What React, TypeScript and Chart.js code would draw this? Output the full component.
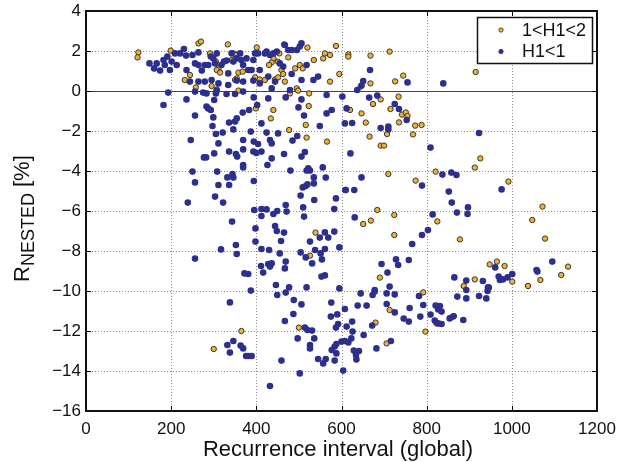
import React, { useEffect, useRef } from "react";
import { Chart, registerables } from "chart.js";

Chart.register(...registerables);

const X_TICKS = [0, 200, 400, 600, 800, 1000, 1200];
const Y_TICKS = [-16, -14, -12, -10, -8, -6, -4, -2, 0, 2, 4];
const SERIES_LABELS = ["1<H1<2", "H1<1"];
const X_TITLE = "Recurrence interval (global)";
const Y_TITLE_MAIN = "R";
const Y_TITLE_SUB = "NESTED";
const Y_TITLE_UNIT = " [%]";

// 1 < H1 < 2 (orange)
const midGroupPoints: [number, number][] = [
  [123, 1.93], [121, 1.68], [199, 2.02], [264, 2.38], [270, 2.47], [333, 2.33], [401, 2.18], [465, 2.33],
  [520, 2.17], [587, 2.25], [291, 1.88], [305, 1.47], [311, 1.13], [307, 1.05], [315, 0.92], [347, 1.88],
  [352, 1.8], [342, 1.55], [358, 0.92], [368, 0.97], [354, 0.63], [350, 0.55], [358, 0.02], [440, 1.63],
  [436, 1.42], [430, 1.3], [454, 1.88], [451, 1.47], [459, 1.05], [463, 0.85], [467, 0.47], [475, 1.68],
  [491, 1.13], [502, 1.3], [509, 1.13], [535, 1.55], [557, 1.63], [561, 1.88], [573, 1.8], [595, 0.85],
  [573, 0.47], [232, 0.55], [244, 0.8], [258, 0.18], [295, 0.25], [307, 0.08], [397, 0.68], [408, 0.58],
  [420, 0.55], [444, 0.58], [451, 0.68], [495, 0.13], [498, 0.02], [479, -0.12], [524, -0.12], [399, -0.87],
  [440, -0.95], [434, -1.37], [477, -1.95], [516, -1.7], [523, -0.75], [518, -2.33], [566, -2.53],
  [616, 1.83], [616, 1.72], [668, 1.77], [713, 1.97], [745, 0.77], [726, 0.48], [915, 0.95], [645, 0.22],
  [668, 0.38], [692, -0.42], [674, -0.65], [734, -0.28], [715, -0.9], [620, -0.95], [647, -1.12], [742, -1.18],
  [751, -1.07], [755, -1.25], [735, -1.57], [657, -1.58], [707, -2.15], [666, -2.28], [773, -1.73], [788, -1.7],
  [768, -2.17], [692, -2.73], [700, -2.73], [926, -3.37],
  [539, -7.08], [526, -8.23],
  [710, -4.15], [774, -4.48], [821, -4.03], [913, -3.83], [992, -4.53], [684, -5.95], [724, -6.2], [651, -6.65],
  [669, -6.48], [825, -6.52], [724, -7.2], [878, -7.42], [1072, -5.78], [1048, -6.45], [1078, -7.38], [690, -9.33],
  [948, -8.67], [965, -8.53], [983, -8.75], [913, -9.42], [887, -9.75], [1001, -9.53], [1038, -9.75], [1067, -9.45],
  [1116, -9.2], [1132, -8.78],
  [365, -12.0], [300, -12.9], [500, -11.83],
  [792, -10.07], [713, -10.95], [680, -11.58], [823, -11.62], [864, -11.25], [797, -12.03], [706, -12.62],
];

// H1 < 1 (blue)
const lowGroupPoints: [number, number][] = [
  [149, 1.38], [160, 1.13], [166, 1.38], [174, 1.02], [182, 1.55], [185, 1.3], [191, 1.72], [197, 1.05],
  [201, 1.47], [209, 1.88], [213, 1.3], [221, 1.88], [230, 2.1], [235, 1.77], [236, 1.05], [250, 1.8],
  [256, 1.38], [264, 1.93], [264, 1.3], [272, 1.02], [279, 1.3], [287, 1.3], [293, 1.72], [299, 1.63],
  [303, 1.38], [307, 1.88], [318, 1.3], [324, 1.47], [330, 1.52], [334, 0.88], [342, 1.88], [346, 1.47],
  [354, 1.63], [362, 1.88], [365, 1.55], [369, 1.3], [377, 1.63], [381, 1.05], [389, 1.05], [393, 1.55],
  [397, 1.88], [404, 1.88], [408, 1.05], [420, 1.88], [424, 1.97], [432, 1.8], [440, 1.88], [448, 1.97],
  [455, 1.38], [463, 1.22], [467, 2.3], [475, 2.05], [483, 2.05], [495, 2.05], [502, 2.22], [506, 2.38],
  [518, 1.3], [534, 0.55], [545, 0.72],
  [244, 0.47], [264, 0.47], [279, 0.47], [295, 0.55], [311, 0.38], [334, 0.3], [354, 0.52], [369, 0.47],
  [393, 0.52], [408, 0.38], [428, 0.72], [444, 0.47], [483, 0.85], [506, 0.55], [256, -0.03], [275, -0.08],
  [283, -0.12], [307, 0.02], [330, -0.15], [350, -0.15], [369, -0.03], [193, -0.08], [436, 0.13], [479, 0.05],
  [182, -0.7], [236, -0.42], [256, -1.23], [283, -0.78], [287, -0.87], [293, -0.95], [301, -0.45], [305, -0.12],
  [299, -1.32], [297, -1.75], [305, -2.15], [321, -2.08], [311, -2.62], [301, -3.12], [277, -3.32], [336, -1.58],
  [346, -1.92], [354, -1.37], [350, -1.53], [368, -1.08], [383, -0.95], [394, -0.32], [402, -0.7], [412, -1.62],
  [387, -2.03], [369, -2.45], [394, -2.53], [404, -2.65], [393, -3.03], [412, -3.03], [336, -3.03], [352, -3.15],
  [369, -2.92], [246, -2.45], [424, -2.08], [432, -2.45], [436, -2.62], [451, -2.12], [428, -0.37], [469, -0.32],
  [465, -3.15], [485, -2.48], [496, -2.25], [499, -0.82], [506, -0.42], [512, -1.23], [549, -1.75], [565, -0.2],
  [565, -1.12], [577, -0.95], [602, -0.28], [608, -1.62], [612, -0.87], [506, -3.28],
  [667, 1.05], [755, 0.43], [839, 0.38], [651, 0.5], [647, 0.27], [637, 0.05], [665, -0.33], [684, -0.23],
  [725, -0.65], [735, -0.9], [753, -1.45], [625, -1.6], [692, -1.85], [710, -1.78], [710, -1.92], [809, -2.83],
  [923, -2.1], [621, -3.12],
  [282, -3.32], [355, -3.28], [400, -3.1], [436, -3.37], [426, -3.7], [514, -3.05], [369, -3.7], [369, -3.82],
  [250, -4.03], [256, -4.57], [308, -4.03], [311, -4.7], [332, -4.32], [336, -4.7], [344, -4.15], [346, -4.33],
  [303, -5.28], [322, -5.58], [239, -5.58], [394, -4.5], [480, -3.98], [522, -3.87], [526, -3.98], [518, -3.98],
  [556, -3.82], [563, -4.33], [535, -4.32], [535, -4.62], [509, -4.82], [516, -4.75], [520, -4.67], [504, -5.23],
  [510, -5.82], [512, -6.28], [536, -5.45], [587, -5.37], [583, -5.9], [610, -4.95], [395, -5.95], [412, -5.9],
  [424, -5.92], [412, -6.25], [440, -6.15], [449, -6.0], [469, -5.7], [471, -6.03], [343, -6.53], [398, -6.87],
  [444, -6.75], [448, -7.0], [465, -7.08], [398, -7.53], [458, -7.5], [549, -7.33], [561, -7.07], [569, -7.33],
  [583, -7.03], [526, -7.53], [595, -7.82], [561, -7.9], [538, -7.95], [551, -8.12], [504, -8.07], [516, -8.32],
  [531, -8.62], [554, -8.42], [412, -7.9], [430, -7.95], [455, -8.12], [469, -8.53], [352, -7.7], [354, -8.15],
  [317, -7.92], [256, -8.38], [411, -8.75], [428, -8.65], [432, -8.78], [436, -8.62], [467, -8.87], [416, -9.08],
  [372, -9.12], [381, -9.15], [446, -9.7], [477, -9.82], [518, -9.82], [553, -9.28], [561, -9.22], [595, -9.87],
  [387, -9.98],
  [647, -4.32], [609, -4.95], [630, -4.95], [789, -4.73], [837, -4.18], [858, -4.08], [870, -4.2], [976, -4.92],
  [852, -5.03], [859, -5.58], [897, -5.82], [871, -6.08], [896, -6.15], [631, -6.32], [814, -6.17], [803, -6.95],
  [789, -7.2], [766, -7.65], [728, -8.42], [694, -8.65], [733, -8.7], [758, -8.45], [708, -9.08], [713, -9.78],
  [678, -9.95], [961, -8.82], [865, -9.32], [893, -9.48], [932, -9.5], [946, -9.83], [969, -9.28], [972, -9.45],
  [979, -9.42], [990, -9.32], [1001, -9.15], [1058, -8.95], [1060, -9.03], [1095, -8.53],
  [449, -10.2], [469, -10.08], [488, -10.45], [506, -10.67], [576, -10.58], [608, -10.9], [590, -11.17], [575, -11.28],
  [487, -11.15], [467, -11.5], [338, -10.57], [332, -12.7], [346, -12.5], [338, -13.08], [363, -12.73], [369, -12.87],
  [376, -13.25], [381, -13.25], [389, -13.25], [514, -11.83], [520, -11.95], [531, -11.98], [497, -12.37], [536, -12.37],
  [526, -12.7], [526, -12.87], [587, -11.83], [592, -11.65], [612, -11.78], [459, -13.48], [545, -13.4], [557, -13.62],
  [563, -13.4], [577, -12.95], [584, -12.78], [588, -12.65], [600, -12.53], [608, -12.5], [616, -12.57], [588, -13.12],
  [584, -13.48], [502, -14.12], [604, -13.98], [432, -14.75],
  [893, -9.95], [944, -9.82], [943, -10.0], [893, -10.37], [923, -10.25], [940, -10.37], [872, -10.28], [645, -10.12],
  [673, -10.2], [678, -10.03], [706, -10.12], [725, -10.17], [782, -10.25], [638, -10.73], [659, -10.73], [706, -10.65],
  [725, -11.07], [760, -10.85], [792, -10.7], [809, -11.18], [821, -10.73], [831, -10.75], [827, -10.92], [835, -11.03],
  [785, -11.28], [746, -11.38], [758, -11.53], [672, -11.73], [625, -11.53], [626, -12.03], [652, -12.2], [623, -12.37],
  [819, -11.48], [827, -11.62], [835, -11.65], [854, -11.37], [862, -11.28], [886, -11.45], [716, -12.5], [682, -12.87],
  [629, -12.98], [641, -13.0], [634, -13.2], [635, -13.42],
];

const FONT = "'Liberation Sans', Arial, Helvetica, sans-serif";
const ORANGE = "#ecb237";
const ORANGE_EDGE = "#3b352c";
const BLUE = "#2c2f8e";

const decorPlugin = {
  id: "decor",
  beforeDatasetsDraw(chart: any) {
    const { ctx, chartArea, scales } = chart;
    const { left, right, top, bottom } = chartArea;
    const xs = scales.x;
    const ys = scales.y;
    ctx.save();
    ctx.strokeStyle = "#8a8a8a";
    ctx.lineWidth = 1;
    ctx.setLineDash([1, 2]);
    for (const v of X_TICKS) {
      const p = Math.round(xs.getPixelForValue(v)) + 0.5;
      if (p <= left + 2 || p >= right - 2) continue;
      ctx.beginPath();
      ctx.moveTo(p, top);
      ctx.lineTo(p, bottom);
      ctx.stroke();
    }
    for (const v of Y_TICKS) {
      if (v === 0) continue;
      const p = Math.round(ys.getPixelForValue(v)) + 0.5;
      if (p <= top + 2 || p >= bottom - 2) continue;
      ctx.beginPath();
      ctx.moveTo(left, p);
      ctx.lineTo(right, p);
      ctx.stroke();
    }
    ctx.setLineDash([]);
    const z = Math.round(ys.getPixelForValue(0)) + 0.5;
    ctx.strokeStyle = "#444";
    ctx.beginPath();
    ctx.moveTo(left, z);
    ctx.lineTo(right, z);
    ctx.stroke();
    ctx.restore();
  },
  afterDatasetsDraw(chart: any) {
    const { ctx, chartArea, scales } = chart;
    const { left, right, top, bottom } = chartArea;
    const xs = scales.x;
    const ys = scales.y;
    ctx.save();
    ctx.strokeStyle = "#000";
    ctx.lineWidth = 1;
    const tl = 5;
    for (const v of X_TICKS) {
      const p = Math.round(xs.getPixelForValue(v)) + 0.5;
      ctx.beginPath();
      ctx.moveTo(p, bottom);
      ctx.lineTo(p, bottom - tl);
      ctx.moveTo(p, top);
      ctx.lineTo(p, top + tl);
      ctx.stroke();
    }
    for (const v of Y_TICKS) {
      const p = Math.round(ys.getPixelForValue(v)) + 0.5;
      ctx.beginPath();
      ctx.moveTo(left, p);
      ctx.lineTo(left + tl, p);
      ctx.moveTo(right, p);
      ctx.lineTo(right - tl, p);
      ctx.stroke();
    }
    ctx.lineWidth = 2;
    ctx.strokeStyle = "#111";
    ctx.strokeRect(left, top, right - left, bottom - top);

    // legend
    const lx = 477.5, ly = 17.5, lw = 115, lh = 46;
    ctx.fillStyle = "#fff";
    ctx.fillRect(lx, ly, lw, lh);
    ctx.lineWidth = 1.5;
    ctx.strokeStyle = "#111";
    ctx.strokeRect(lx, ly, lw, lh);
    const rows = [
      { label: SERIES_LABELS[0], fill: ORANGE, edge: ORANGE_EDGE, y: 30 },
      { label: SERIES_LABELS[1], fill: BLUE, edge: BLUE, y: 51.5 },
    ];
    ctx.font = `18px ${FONT}`;
    ctx.textBaseline = "middle";
    ctx.textAlign = "left";
    for (const r of rows) {
      ctx.beginPath();
      ctx.arc(501, r.y, 2.2, 0, Math.PI * 2);
      ctx.fillStyle = r.fill;
      ctx.fill();
      ctx.lineWidth = 0.8;
      ctx.strokeStyle = r.edge;
      ctx.stroke();
      ctx.fillStyle = "#111";
      ctx.fillText(r.label, 522, r.y + 1);
    }
    ctx.restore();
  },
  afterDraw(chart: any) {
    const { ctx } = chart;
    ctx.save();
    ctx.fillStyle = "#111";
    ctx.font = `22px ${FONT}`;
    ctx.textAlign = "center";
    ctx.textBaseline = "alphabetic";
    ctx.fillText(X_TITLE, 338, 456);
    ctx.translate(29, 282);
    ctx.rotate(-Math.PI / 2);
    ctx.textAlign = "left";
    ctx.font = `22px ${FONT}`;
    ctx.fillText(Y_TITLE_MAIN, 0, 0);
    let w = ctx.measureText(Y_TITLE_MAIN).width;
    ctx.font = `18px ${FONT}`;
    ctx.fillText(Y_TITLE_SUB, w, 5);
    w += ctx.measureText(Y_TITLE_SUB).width;
    ctx.font = `22px ${FONT}`;
    ctx.fillText(Y_TITLE_UNIT, w, 0);
    ctx.restore();
  },
};

export default function App() {
  const canvasRef = useRef<HTMLCanvasElement | null>(null);

  useEffect(() => {
    const canvas = canvasRef.current;
    if (!canvas) return;
    const chart = new Chart(canvas, {
      type: "scatter",
      data: {
        datasets: [
          {
            label: SERIES_LABELS[0],
            data: midGroupPoints.map(([x, y]) => ({ x, y })),
            backgroundColor: ORANGE,
            borderColor: ORANGE_EDGE,
            borderWidth: 1,
            pointRadius: 2.7,
            order: 2,
          },
          {
            label: SERIES_LABELS[1],
            data: lowGroupPoints.map(([x, y]) => ({ x, y })),
            backgroundColor: BLUE,
            borderColor: BLUE,
            borderWidth: 0,
            pointRadius: 3.3,
            order: 1,
          },
        ],
      },
      options: {
        animation: false,
        responsive: false,
        layout: { padding: { left: 0, right: 22, top: 11, bottom: 0 } },
        plugins: { legend: { display: false }, tooltip: { enabled: false } },
        scales: {
          x: {
            type: "linear",
            min: 0,
            max: 1200,
            afterBuildTicks: (s: any) => {
              s.ticks = X_TICKS.map((v) => ({ value: v }));
            },
            afterFit: (s: any) => {
              s.height = 51;
              s.paddingLeft = 0;
              s.paddingRight = 0;
            },
            ticks: {
              font: { family: FONT, size: 17 },
              color: "#111",
              padding: 8,
              maxRotation: 0,
              autoSkip: false,
              callback: (v: any) => String(v),
            },
            grid: { display: false, drawTicks: false },
            border: { display: false },
          },
          y: {
            type: "linear",
            min: -16,
            max: 4,
            afterBuildTicks: (s: any) => {
              s.ticks = Y_TICKS.map((v) => ({ value: v }));
            },
            afterFit: (s: any) => {
              s.width = 86;
              s.paddingTop = 0;
              s.paddingBottom = 0;
            },
            ticks: {
              font: { family: FONT, size: 17 },
              color: "#111",
              padding: 5,
              autoSkip: false,
              callback: (v: any) => String(v).replace("-", "\u2212"),
            },
            grid: { display: false, drawTicks: false },
            border: { display: false },
          },
        },
      },
      plugins: [decorPlugin],
    });
    return () => chart.destroy();
  }, []);

  return (
    <div style={{ position: "fixed", left: 0, top: 0, width: 619, height: 462, background: "#fff" }}>
      <canvas ref={canvasRef} width={619} height={462} style={{ display: "block" }} />
    </div>
  );
}
